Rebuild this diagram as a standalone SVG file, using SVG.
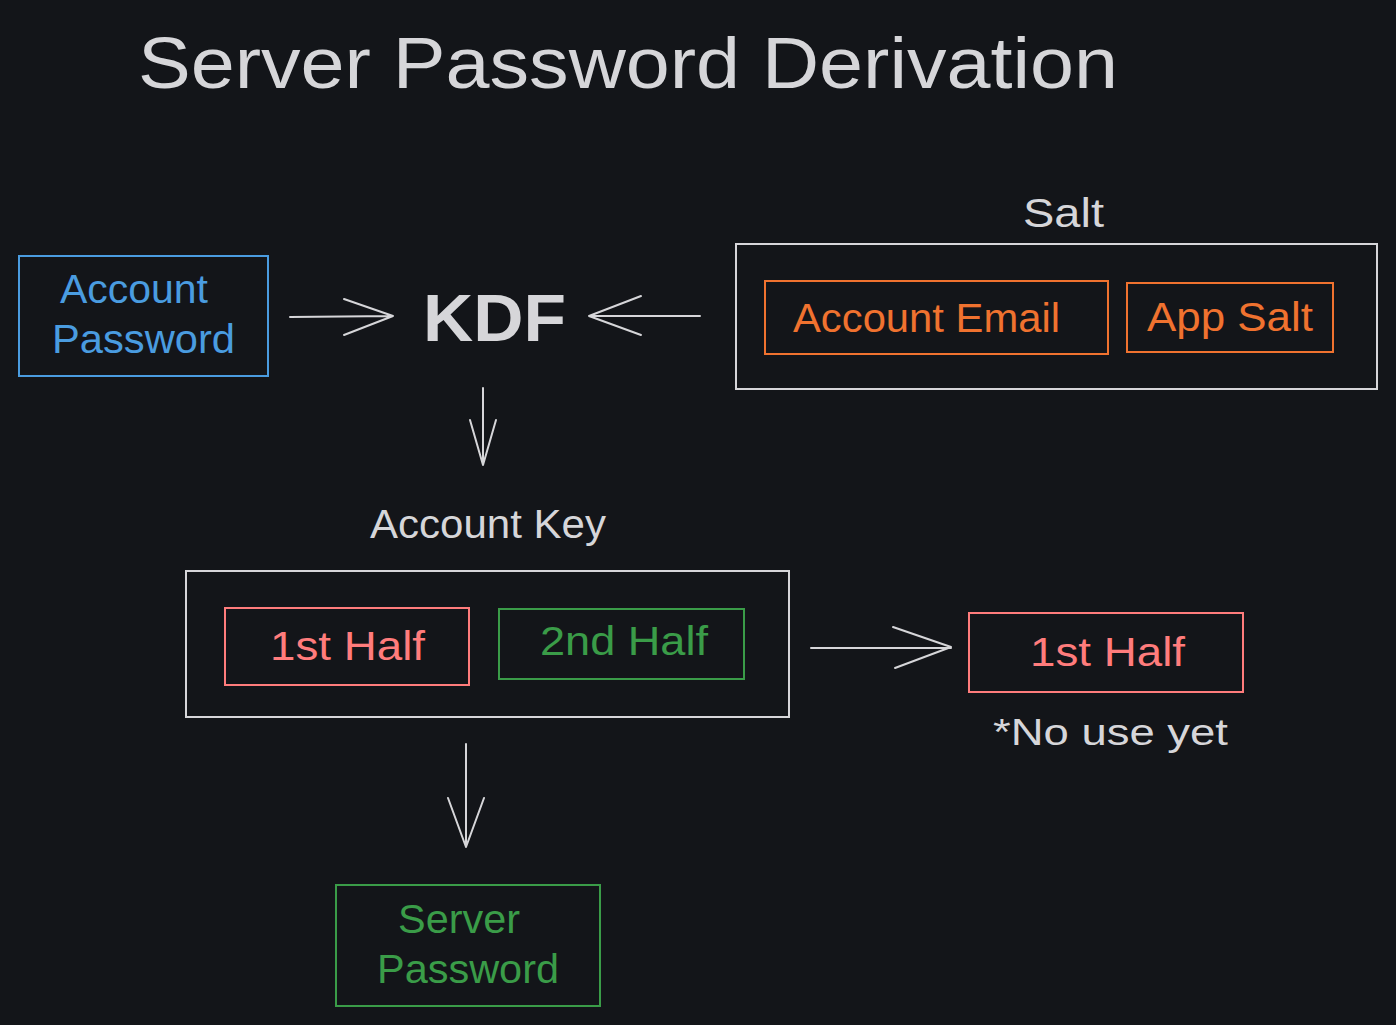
<svg xmlns="http://www.w3.org/2000/svg" width="1396" height="1025" viewBox="0 0 1396 1025">
<style>
.t{font-family:"Liberation Sans","DejaVu Sans",sans-serif;}
.w{fill:#d6d6d9;}
.box{fill:none;stroke-width:2;}
.blue{stroke:#4a9ce0;}
.orange{stroke:#f0722f;}
.red{stroke:#ff7c7c;}
.green{stroke:#3a9c48;}
.white{stroke:#d6d6d9;}
.ftb{fill:#4a9ce0;}
.fto{fill:#f0722f;}
.ftr{fill:#ff7c7c;}
.ftg{fill:#3a9c48;}
.arr{fill:none;stroke:#d6d6d9;stroke-width:2;stroke-linecap:round;stroke-linejoin:round;}
</style>
<rect x="0" y="0" width="1396" height="1025" fill="#131519"/>
<g id="title">
<text class="t w" x="138" y="88" font-size="72" textLength="980" lengthAdjust="spacingAndGlyphs">Server Password Derivation</text>
</g>
<g id="account-password">
<rect class="box blue" x="19" y="256" width="249" height="120"/>
<text class="t ftb" x="60" y="303" font-size="40" textLength="148" lengthAdjust="spacingAndGlyphs">Account</text>
<text class="t ftb" x="52" y="353" font-size="40" textLength="183" lengthAdjust="spacingAndGlyphs">Password</text>
</g>
<g id="kdf">
<text class="t w" x="423" y="341" font-size="66" font-weight="bold" textLength="143" lengthAdjust="spacingAndGlyphs">KDF</text>
</g>
<g id="salt">
<text class="t w" x="1023" y="227" font-size="40" textLength="81" lengthAdjust="spacingAndGlyphs">Salt</text>
<rect class="box white" x="736" y="244" width="641" height="145"/>
</g>
<g id="account-email">
<rect class="box orange" x="765" y="281" width="343" height="73"/>
<text class="t fto" x="793" y="332" font-size="40" textLength="267" lengthAdjust="spacingAndGlyphs">Account Email</text>
</g>
<g id="app-salt">
<rect class="box orange" x="1127" y="283" width="206" height="69"/>
<text class="t fto" x="1147" y="331" font-size="40" textLength="166" lengthAdjust="spacingAndGlyphs">App Salt</text>
</g>
<g id="account-key">
<text class="t w" x="370" y="538" font-size="40" textLength="236" lengthAdjust="spacingAndGlyphs">Account Key</text>
<rect class="box white" x="186" y="571" width="603" height="146"/>
</g>
<g id="first-half">
<rect class="box red" x="225" y="608" width="244" height="77"/>
<text class="t ftr" x="270" y="660" font-size="40" textLength="155" lengthAdjust="spacingAndGlyphs">1st Half</text>
</g>
<g id="second-half">
<rect class="box green" x="499" y="609" width="245" height="70"/>
<text class="t ftg" x="540" y="655" font-size="40" textLength="168" lengthAdjust="spacingAndGlyphs">2nd Half</text>
</g>
<g id="first-half-out">
<rect class="box red" x="969" y="613" width="274" height="79"/>
<text class="t ftr" x="1030" y="666" font-size="40" textLength="155" lengthAdjust="spacingAndGlyphs">1st Half</text>
<text class="t w" x="993" y="745" font-size="36" textLength="235" lengthAdjust="spacingAndGlyphs">*No use yet</text>
</g>
<g id="server-password">
<rect class="box green" x="336" y="885" width="264" height="121"/>
<text class="t ftg" x="398" y="933" font-size="40" textLength="122" lengthAdjust="spacingAndGlyphs">Server</text>
<text class="t ftg" x="377" y="983" font-size="40" textLength="182" lengthAdjust="spacingAndGlyphs">Password</text>
</g>
<g id="connectors">
<path class="arr" d="M290 317 L393 316 M344 299 L393 316 L344 335"/>
<path class="arr" d="M700 316 L589 316 M641 296 L589 316 L641 335"/>
<path class="arr" d="M483 388 L483 465 M470 420 L483 465 L496 420"/>
<path class="arr" d="M811 648 L951 648 M893 627 L951 647 L895 668"/>
<path class="arr" d="M466 744 L466 847 M448 798 L466 847 L484 798"/>
</g>
</svg>
